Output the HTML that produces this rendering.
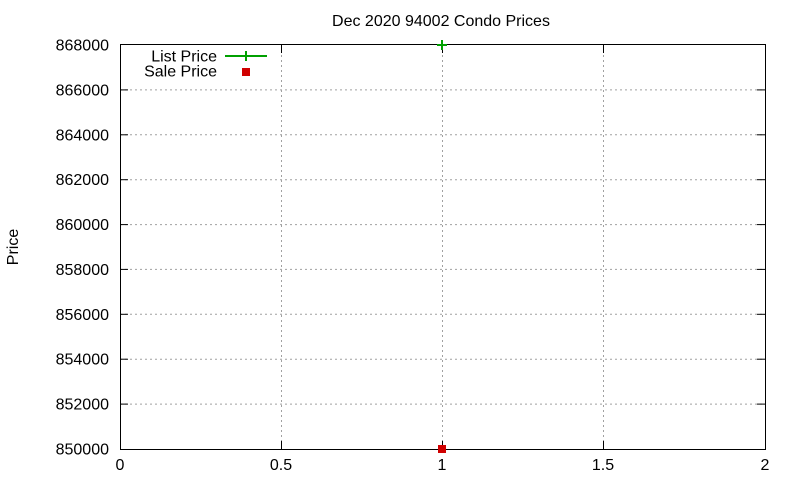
<!DOCTYPE html>
<html><head><style>body{margin:0;background:#fff}svg{display:block}</style></head><body>
<svg width="800" height="480" xmlns="http://www.w3.org/2000/svg" font-family="Liberation Sans, sans-serif" font-size="16" fill="#000">
<rect width="800" height="480" fill="#fff"/>
<g stroke="#a0a0a0" stroke-width="1" stroke-dasharray="2,3">
<line x1="281.5" y1="45" x2="281.5" y2="449"/>
<line x1="442.5" y1="45" x2="442.5" y2="449"/>
<line x1="603.5" y1="45" x2="603.5" y2="449"/>
<line x1="120" y1="89.9" x2="765" y2="89.9"/>
<line x1="120" y1="134.8" x2="765" y2="134.8"/>
<line x1="120" y1="179.7" x2="765" y2="179.7"/>
<line x1="120" y1="224.6" x2="765" y2="224.6"/>
<line x1="120" y1="269.4" x2="765" y2="269.4"/>
<line x1="120" y1="314.3" x2="765" y2="314.3"/>
<line x1="120" y1="359.2" x2="765" y2="359.2"/>
<line x1="120" y1="404.1" x2="765" y2="404.1"/>
</g>
<rect x="120.5" y="44.5" width="645" height="405" fill="none" stroke="#000" stroke-width="1"/>
<g stroke="#000">
<line x1="120" y1="89.9" x2="128" y2="89.9"/><line x1="765" y1="89.9" x2="757" y2="89.9"/>
<line x1="120" y1="134.8" x2="128" y2="134.8"/><line x1="765" y1="134.8" x2="757" y2="134.8"/>
<line x1="120" y1="179.7" x2="128" y2="179.7"/><line x1="765" y1="179.7" x2="757" y2="179.7"/>
<line x1="120" y1="224.6" x2="128" y2="224.6"/><line x1="765" y1="224.6" x2="757" y2="224.6"/>
<line x1="120" y1="269.4" x2="128" y2="269.4"/><line x1="765" y1="269.4" x2="757" y2="269.4"/>
<line x1="120" y1="314.3" x2="128" y2="314.3"/><line x1="765" y1="314.3" x2="757" y2="314.3"/>
<line x1="120" y1="359.2" x2="128" y2="359.2"/><line x1="765" y1="359.2" x2="757" y2="359.2"/>
<line x1="120" y1="404.1" x2="128" y2="404.1"/><line x1="765" y1="404.1" x2="757" y2="404.1"/>
<line x1="281.5" y1="449" x2="281.5" y2="441"/><line x1="281.5" y1="45" x2="281.5" y2="53"/>
<line x1="442.5" y1="449" x2="442.5" y2="441"/><line x1="442.5" y1="45" x2="442.5" y2="53"/>
<line x1="603.5" y1="449" x2="603.5" y2="441"/><line x1="603.5" y1="45" x2="603.5" y2="53"/>
</g>
<g text-anchor="end">
<text x="109" y="50.5">868000</text><text x="109" y="95.4">866000</text><text x="109" y="140.3">864000</text>
<text x="109" y="185.2">862000</text><text x="109" y="230.1">860000</text><text x="109" y="274.9">858000</text>
<text x="109" y="319.8">856000</text><text x="109" y="364.7">854000</text><text x="109" y="409.6">852000</text>
<text x="109" y="454.5">850000</text>
</g>
<g text-anchor="middle">
<text x="120" y="470">0</text><text x="281" y="470">0.5</text><text x="442" y="470">1</text>
<text x="603" y="470">1.5</text><text x="765" y="470">2</text>
<text x="441" y="26">Dec 2020 94002 Condo Prices</text>
<text transform="translate(18,247) rotate(-90)">Price</text>
</g>
<text x="217" y="61.5" text-anchor="end">List Price</text>
<text x="217" y="76.5" text-anchor="end">Sale Price</text>
<g stroke="#00a000" stroke-width="2">
<line x1="225" y1="56" x2="267" y2="56"/><line x1="246" y1="51" x2="246" y2="61"/>
<line x1="437" y1="45" x2="447" y2="45"/><line x1="442" y1="40" x2="442" y2="50"/>
</g>
<rect x="242" y="68" width="8" height="8" fill="#d00000"/>
<rect x="438" y="445" width="8" height="8" fill="#d00000"/>
</svg>
</body></html>
